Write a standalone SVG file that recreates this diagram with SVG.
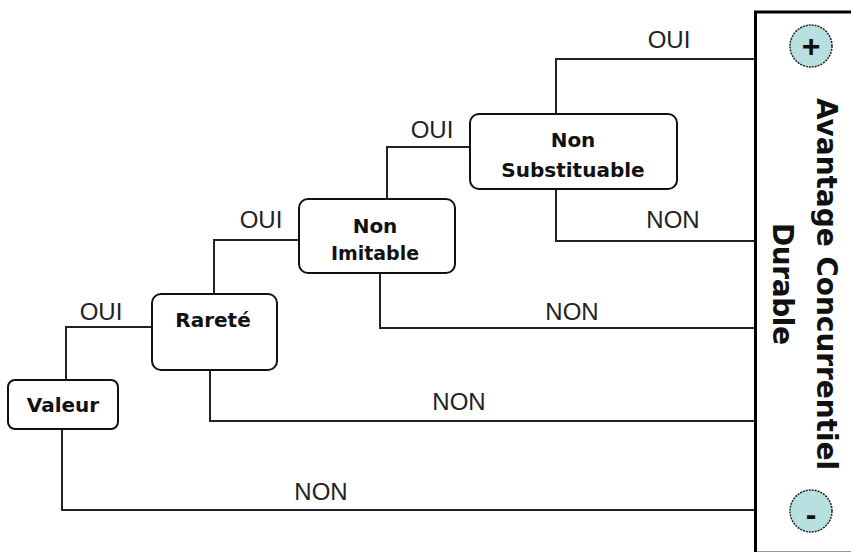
<svg xmlns="http://www.w3.org/2000/svg" width="851" height="554" viewBox="0 0 851 554">
<style>
.node{fill:#fff;stroke:#111;stroke-width:2}
.nt{font-family:"DejaVu Sans",sans-serif;font-weight:bold;font-size:20px;fill:#111;text-anchor:middle}
.lbl{font-family:"Liberation Sans",Arial,sans-serif;font-size:24px;fill:#222;text-anchor:middle}
.conn{fill:none;stroke:#222;stroke-width:2}
.big{font-family:"DejaVu Sans",sans-serif;font-weight:bold;font-size:28px;fill:#111;text-anchor:middle}
.circ{fill:#b9e0e1;stroke:#222;stroke-width:1.5;stroke-dasharray:2 1}
.sym{font-family:"Liberation Sans",Arial,sans-serif;font-weight:bold;font-size:32px;fill:#111;text-anchor:middle}
</style>
<rect width="851" height="554" fill="#fff"/>
<g id="connectors">
<path class="conn" d="M66 380 V327 H152"/>
<path class="conn" d="M62 429 V510 H756"/>
<path class="conn" d="M214 294 V240 H299"/>
<path class="conn" d="M210 370 V421 H756"/>
<path class="conn" d="M387 199 V147 H470"/>
<path class="conn" d="M380 273 V328 H756"/>
<path class="conn" d="M556 114 V59 H756"/>
<path class="conn" d="M556 189 V241 H756"/>
<text class="lbl" x="669" y="48">OUI</text>
<text class="lbl" x="432" y="138">OUI</text>
<text class="lbl" x="261" y="228">OUI</text>
<text class="lbl" x="101" y="320">OUI</text>
<text class="lbl" x="673" y="228">NON</text>
<text class="lbl" x="572" y="320">NON</text>
<text class="lbl" x="459" y="410">NON</text>
<text class="lbl" x="321" y="500">NON</text>
</g>
<g id="valeur">
<rect class="node" x="8" y="380" width="110" height="49" rx="7"/>
<text class="nt" x="63" y="412">Valeur</text>
</g>
<g id="rarete">
<rect class="node" x="152" y="294" width="125" height="76" rx="9"/>
<text class="nt" x="213" y="327">Rareté</text>
</g>
<g id="non-imitable">
<rect class="node" x="299" y="199" width="156" height="74" rx="9"/>
<text class="nt" x="375" y="233">Non</text>
<text class="nt" x="375" y="260" textLength="88" lengthAdjust="spacingAndGlyphs">Imitable</text>
</g>
<g id="non-substituable">
<rect class="node" x="470" y="114" width="207" height="75" rx="9"/>
<text class="nt" x="573" y="147">Non</text>
<text class="nt" x="573" y="177">Substituable</text>
</g>
<g id="avantage">
<path d="M870 12 H755.5 V552" fill="none" stroke="#000" stroke-width="3"/>
<line x1="757" y1="551.5" x2="851" y2="551.5" stroke="#999" stroke-width="1"/>
<circle class="circ" cx="811" cy="46" r="21"/>
<text class="sym" x="811" y="57">+</text>
<circle class="circ" cx="811" cy="511" r="21"/>
<text class="sym" x="811" y="525">-</text>
<text class="big" x="817" y="284" transform="rotate(90 817 284)" textLength="372" lengthAdjust="spacing">Avantage Concurrentiel</text>
<text class="big" x="773" y="284" transform="rotate(90 773 284)" textLength="122" lengthAdjust="spacing">Durable</text>
</g>
</svg>
